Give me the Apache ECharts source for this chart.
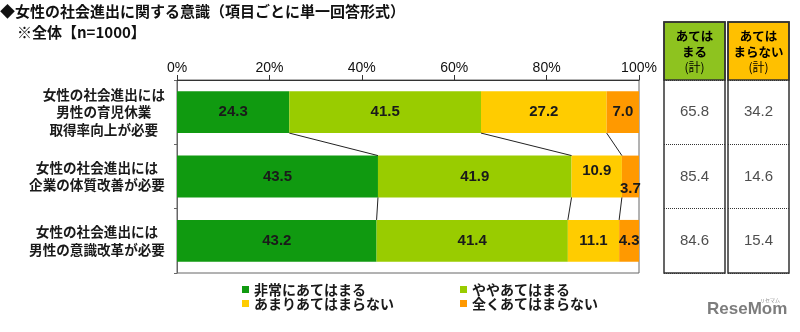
<!DOCTYPE html>
<html>
<head>
<meta charset="utf-8">
<script src="https://cdn.jsdelivr.net/npm/echarts@6/dist/echarts.min.js"></script>
<style>
  html, body { margin: 0; padding: 0; background: #fff; }
  #chart { width: 800px; height: 332px; }
</style>
</head>
<body>
<div id="chart"></div>
<script>
// Survey items (top to bottom)
const categories = [
  '女性の社会進出には\n男性の育児休業\n取得率向上が必要',
  '女性の社会進出には\n企業の体質改善が必要',
  '女性の社会進出には\n男性の意識改革が必要'
];
const seriesNames = ['非常にあてはまる', 'ややあてはまる', 'あまりあてはまらない', '全くあてはまらない'];

// Shares (%) per answer
const veryTrue      = [24.3, 43.5, 43.2];
const somewhatTrue  = [41.5, 41.9, 41.4];
const notReallyTrue = [27.2, 10.9, 11.1];
const notAtAllTrue  = [7.0, 3.7, 4.3];

// Summary columns
const agreeTotal    = [65.8, 85.4, 84.6];
const disagreeTotal = [34.2, 14.6, 15.4];
const tableHeaders  = [['あては', 'まる', '(計)'], ['あては', 'まらない', '(計)']];

const titleText = '◆女性の社会進出に関する意識（項目ごとに単一回答形式）';
const subText = '※全体【n=1000】';

// ---- styling / layout ----
const JP = '"Noto Sans CJK JP", "Noto Sans", sans-serif';
const NUM = '"Liberation Sans", Arial, sans-serif';
const colors = ['#109a10', '#99cc00', '#ffcc00', '#ff9900'];
const headerColors = ['#8ec31f', '#ffc000'];
const plot = { left: 177, right: 639, top: 80, bottom: 273 };
const cols = [{ x: 664, w: 61 }, { x: 728, w: 61 }];
const tableTop = 22;
const barRatio = 0.65;
// per-label nudges: labelShift[series][row] = [dx, dy]
const labelShift = { 2: { 1: [0, -6] }, 3: { 1: [0, 12] } };

const values = [veryTrue, somewhatTrue, notReallyTrue, notAtAllTrue];

// cumulative right edges of the first three segments for the connector lines
const cum = categories.map((_, i) => {
  let s = 0;
  return values.slice(0, 3).map(v => (s += v[i]));
});
const connectors = [];
for (let k = 0; k < 3; k++) {
  for (let i = 0; i < categories.length - 1; i++) {
    connectors.push([cum[i][k], cum[i + 1][k], i]);
  }
}

const barSeries = values.map((arr, si) => ({
  name: seriesNames[si],
  type: 'bar',
  stack: 'total',
  barWidth: (barRatio * 100) + '%',
  itemStyle: { color: colors[si] },
  label: {
    show: true,
    position: 'inside',
    fontFamily: NUM,
    fontSize: 15,
    fontWeight: 'bold',
    color: '#1a1a1a',
    formatter: p => p.value.toFixed(1)
  },
  data: arr.map((v, i) => {
    const shift = labelShift[si] && labelShift[si][i];
    return shift ? { value: v, label: { offset: shift } } : v;
  }),
  z: 2
}));

const connectorSeries = {
  type: 'custom',
  coordinateSystem: 'cartesian2d',
  xAxisIndex: 0,
  yAxisIndex: 0,
  silent: true,
  encode: { x: [0, 1], y: 2 },
  data: connectors,
  renderItem: (params, api) => {
    const row = api.value(2);
    const p1 = api.coord([api.value(0), row]);
    const p2 = api.coord([api.value(1), row + 1]);
    const half = api.size([0, 1])[1] * barRatio / 2;
    return {
      type: 'line',
      shape: { x1: p1[0], y1: p1[1] + half, x2: p2[0], y2: p2[1] - half },
      style: { stroke: '#222', lineWidth: 1 }
    };
  },
  z: 3
};

const tableSeries = [agreeTotal, disagreeTotal].map((arr, ci) => ({
  type: 'scatter',
  xAxisIndex: ci + 1,
  yAxisIndex: ci + 1,
  symbolSize: 1,
  silent: true,
  itemStyle: { color: 'rgba(0,0,0,0)' },
  label: {
    show: true,
    position: 'inside',
    fontFamily: NUM,
    fontSize: 15,
    color: '#222',
    formatter: p => p.value[2].toFixed(1)
  },
  data: arr.map((v, i) => [0.5, i, v])
}));

// y-label block: lines centred inside a right-aligned box
const labelFont = 13.6;
function labelFormatter(value) {
  const lines = value.split('\n');
  const maxLen = Math.max(...lines.map(l => l.length));
  const key = 'w' + maxLen;
  return lines.map(l => '{' + key + '|' + l + '}').join('\n');
}
const richStyles = {};
categories.forEach(c => {
  const maxLen = Math.max(...c.split('\n').map(l => l.length));
  richStyles['w' + maxLen] = {
    width: maxLen * labelFont,
    align: 'center',
    fontFamily: JP,
    fontSize: labelFont,
    fontWeight: 'bold',
    color: '#1a1a1a',
    lineHeight: 17.5
  };
});

const graphics = [];
cols.forEach((c, ci) => {
  graphics.push({
    type: 'rect',
    shape: { x: c.x, y: tableTop, width: c.w, height: plot.bottom - tableTop },
    style: { fill: 'none', stroke: '#333', lineWidth: 1.5 },
    z: 20, silent: true
  });
  graphics.push({
    type: 'rect',
    shape: { x: c.x, y: tableTop, width: c.w, height: plot.top - tableTop },
    style: { fill: headerColors[ci], stroke: '#333', lineWidth: 1.5 },
    z: 19, silent: true
  });
  const h = tableHeaders[ci];
  graphics.push({
    type: 'text',
    x: c.x + c.w / 2,
    y: (tableTop + plot.top) / 2 + 1,
    style: {
      text: '{b|' + h[0] + '}\n{b|' + h[1] + '}\n{s|' + h[2] + '}',
      align: 'center',
      verticalAlign: 'middle',
      rich: {
        b: { fontFamily: JP, fontSize: 12.5, fontWeight: 'bold', color: '#222', lineHeight: 15.5 },
        s: { fontFamily: JP, fontSize: 12, color: '#222', lineHeight: 15.5 }
      }
    },
    z: 21, silent: true
  });
});
graphics.push({
  type: 'text',
  x: 707, y: 309,
  style: {
    text: 'ReseMom',
    fontFamily: NUM, fontSize: 17, fontWeight: 'bold', fill: '#7d7d7d',
    verticalAlign: 'middle'
  },
  silent: true
});
graphics.push({
  type: 'text',
  x: 770, y: 300,
  style: { text: 'リセマム', fontFamily: JP, fontSize: 5, fill: '#8a8a8a', align: 'center', verticalAlign: 'middle' },
  silent: true
});

const legendText = { fontFamily: JP, fontSize: 14, fontWeight: 'bold', color: '#1a1a1a', lineHeight: 13.5 };
const legendBase = {
  orient: 'vertical', top: 282.5, padding: 0, itemGap: 0,
  itemWidth: 7, itemHeight: 7, icon: 'rect', selectedMode: false,
  textStyle: legendText
};

const chart = echarts.init(document.getElementById('chart'), null, { renderer: 'canvas' });
chart.setOption({
  animation: false,
  backgroundColor: '#fff',
  title: [
    { text: titleText, left: 0, top: 4, padding: 0,
      textStyle: { fontFamily: JP, fontSize: 15, fontWeight: 'bold', color: '#111' } },
    { text: subText, left: 17, top: 25, padding: 0,
      textStyle: { fontFamily: JP, fontSize: 15, fontWeight: 'bold', color: '#111' } }
  ],
  legend: [
    Object.assign({}, legendBase, { left: 242, data: [seriesNames[0], seriesNames[2]] }),
    Object.assign({}, legendBase, { left: 460, data: [seriesNames[1], seriesNames[3]] })
  ],
  grid: [
    { left: plot.left, top: plot.top, width: plot.right - plot.left, height: plot.bottom - plot.top,
      show: true, borderColor: '#666', borderWidth: 1, backgroundColor: '#fff', outerBoundsMode: 'none' },
    { left: cols[0].x, top: plot.top, width: cols[0].w, height: plot.bottom - plot.top, outerBoundsMode: 'none' },
    { left: cols[1].x, top: plot.top, width: cols[1].w, height: plot.bottom - plot.top, outerBoundsMode: 'none' }
  ],
  xAxis: [
    {
      gridIndex: 0, type: 'value', position: 'top', min: 0, max: 100, interval: 20,
      axisLine: { show: true, lineStyle: { color: '#333', width: 1 } },
      axisTick: { show: true, length: 5, lineStyle: { color: '#333' } },
      splitLine: { show: false },
      axisLabel: { formatter: '{value}%', fontFamily: NUM, fontSize: 14, color: '#111', margin: 5 }
    },
    { gridIndex: 1, type: 'value', min: 0, max: 1, show: false },
    { gridIndex: 2, type: 'value', min: 0, max: 1, show: false }
  ],
  yAxis: [
    {
      gridIndex: 0, type: 'category', data: categories, inverse: true,
      axisLine: { show: true, lineStyle: { color: '#666' } },
      axisTick: { show: true, length: 3, lineStyle: { color: '#666' } },
      splitLine: { show: false },
      axisLabel: { margin: 12, formatter: labelFormatter, rich: richStyles }
    },
    {
      gridIndex: 1, type: 'category', data: categories, inverse: true,
      axisLine: { show: false }, axisTick: { show: false }, axisLabel: { show: false },
      splitLine: { show: true, lineStyle: { color: '#333', type: 'dotted', width: 1 } }
    },
    {
      gridIndex: 2, type: 'category', data: categories, inverse: true,
      axisLine: { show: false }, axisTick: { show: false }, axisLabel: { show: false },
      splitLine: { show: true, lineStyle: { color: '#333', type: 'dotted', width: 1 } }
    }
  ],
  series: [...barSeries, connectorSeries, ...tableSeries],
  graphic: graphics
});
</script>
</body>
</html>
